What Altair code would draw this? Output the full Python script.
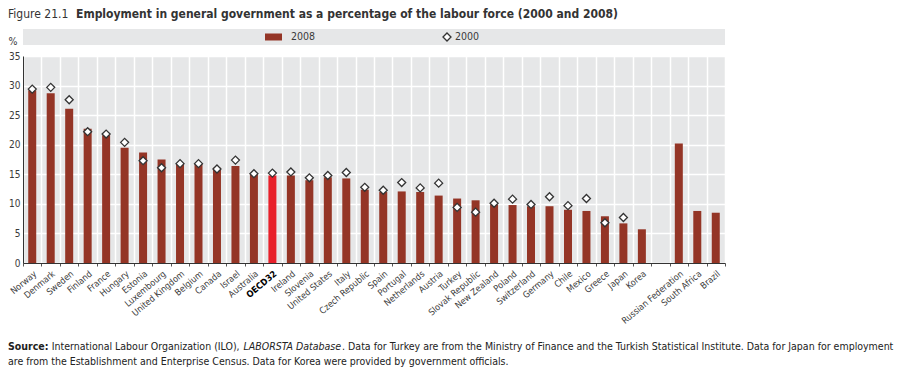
import altair as alt
import pandas as pd

countries = ["Norway", "Denmark", "Sweden", "Finland", "France", "Hungary", "Estonia",
             "Luxembourg", "United Kingdom", "Belgium", "Canada", "Israel", "Australia",
             "OECD32", "Ireland", "Slovenia", "United States", "Italy", "Czech Republic",
             "Spain", "Portugal", "Netherlands", "Austria", "Turkey", "Slovak Republic",
             "New Zealand", "Poland", "Switzerland", "Germany", "Chile", "Mexico", "Greece",
             "Japan", "Korea", " ", "Russian Federation", "South Africa", "Brazil"]

v2008 = [29.2, 28.7, 26.1, 22.7, 21.6, 19.5, 18.7, 17.5, 16.9, 16.7, 16.1, 16.4, 15.0,
         14.8, 14.8, 14.0, 14.5, 14.3, 12.4, 12.0, 12.1, 12.0, 11.4, 10.9, 10.6, 9.9,
         9.8, 9.6, 9.6, 9.0, 8.8, 7.9, 6.7, 5.7, None, 20.2, 8.8, 8.5]

v2000 = [29.4, 29.7, 27.6, 22.2, 21.8, 20.4, 17.3, 16.1, 16.8, 16.8, 15.9, 17.4, 15.1,
         15.2, 15.4, 14.4, 14.8, 15.3, 12.8, 12.3, 13.6, 12.7, 13.5, 9.4, 8.6, 10.1,
         10.8, 9.9, 11.2, 9.7, 10.9, 6.8, 7.7, None, None, None, None, None]

y_ticks = [0, 5, 10, 15, 20, 25, 30, 35]

df = pd.DataFrame({"country": countries, "v2008": v2008, "v2000": v2000})

FONT = "DejaVu Sans Condensed, Liberation Sans, sans-serif"
BAR = "#943526"
OECD = "#e8202a"
BG = "#e6e7e8"
TXT = "#3a3a3a"

W, H = 702, 207

x_enc = alt.X(
    "country:N", sort=countries, title=None,
    scale=alt.Scale(paddingInner=0, paddingOuter=0),
    axis=alt.Axis(
        labelAngle=-40, labelFont=FONT, labelFontSize=9,
        labelColor={"condition": {"test": "datum.value == 'OECD32'", "value": "#000000"}, "value": TXT},
        labelFontWeight={"condition": {"test": "datum.value == 'OECD32'", "value": "bold"}, "value": "normal"},
        tickBand="extent", grid=True, gridColor="white", gridWidth=1.5,
        domainColor="#333333", tickColor="#555555", tickSize=3, labelPadding=3,
        labelOverlap=False,
    ),
)

y_axis = alt.Axis(
    values=y_ticks, title=None, grid=True, gridColor="white", gridWidth=1.5,
    ticks=False, domainColor="#333333", labelFont=FONT, labelFontSize=10,
    labelColor=TXT, labelPadding=3, labelOverlap=False,
)
y_scale = alt.Scale(domain=[0, 35], nice=False)

bars = alt.Chart(df).mark_bar(size=8).encode(
    x=x_enc,
    y=alt.Y("v2008:Q", scale=y_scale, axis=y_axis),
    color=alt.condition(alt.datum.country == "OECD32", alt.value(OECD), alt.value(BAR)),
)

points = alt.Chart(df).mark_point(
    shape="diamond", filled=True, fill="white", stroke="#333333",
    strokeWidth=1.3, size=64, opacity=1,
).encode(
    x=x_enc,
    y=alt.Y("v2000:Q", scale=y_scale, axis=y_axis),
)

one = pd.DataFrame({"a": [0]})


def txt(text, x, y, size=11, weight="normal", style="normal", color=TXT, align="left"):
    return alt.Chart(one).mark_text(
        text=text, font=FONT, fontSize=size, fontWeight=weight, fontStyle=style,
        color=color, align=align, baseline="middle",
    ).encode(x=alt.value(x), y=alt.value(y))


band = alt.Chart(one).mark_rect(color=BG).encode(
    x=alt.value(0), x2=alt.value(W), y=alt.value(-27), y2=alt.value(-11)
)
swatch = alt.Chart(one).mark_rect(color=BAR).encode(
    x=alt.value(242), x2=alt.value(259), y=alt.value(-22.5), y2=alt.value(-15.5)
)
leg_diamond = alt.Chart(one).mark_point(
    shape="diamond", filled=True, fill="white", stroke="#333333",
    strokeWidth=1.3, size=64, opacity=1,
).encode(x=alt.value(424), y=alt.value(-19))

SRC = "#222222"
SS = 10.5
layers = [
    bars, points, band, swatch, leg_diamond,
    txt("2008", 268, -19, 10.5),
    txt("2000", 432, -19, 10.5),
    txt("%", -10, -14, 10.5, align="center"),
    txt("Figure 21.1", -15, -42, 12, color="#333333"),
    txt("Employment in general government as a percentage of the labour force (2000 and 2008)",
        53, -42, 12, weight="bold", color="#333333"),
    txt("Source:", -15, 291, SS, weight="bold", color=SRC),
    txt("International Labour Organization (ILO),", 28.8, 291, SS, color=SRC),
    txt("LABORSTA Database", 220.5, 291, SS, style="italic", color=SRC),
    txt(". Data for Turkey are from the Ministry of Finance and the Turkish Statistical Institute. "
        "Data for Japan for employment", 319.1, 291, SS, color=SRC),
    txt("are from the Establishment and Enterprise Census. Data for Korea were provided by government officials.",
        -15, 306, SS, color=SRC),
]

chart = alt.layer(*layers).properties(
    width=W, height=H,
    autosize=alt.AutoSizeParams(type="none"),
    padding={"left": 15, "top": 48, "right": 178, "bottom": 106},
).configure_view(fill=BG, stroke=None)

chart.save("out.html", embed_options={"renderer": "svg", "actions": False})
